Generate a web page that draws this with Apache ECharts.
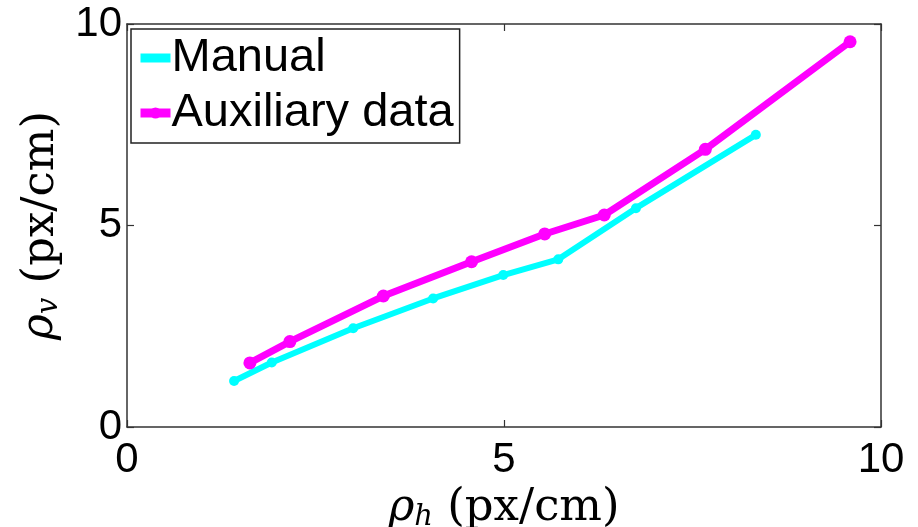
<!DOCTYPE html>
<html>
<head>
<meta charset="utf-8">
<script src="https://cdn.jsdelivr.net/npm/echarts@6/dist/echarts.min.js"></script>
<style>
  html, body { margin: 0; padding: 0; background: #fff; }
  #chart { width: 918px; height: 527px; }
</style>
</head>
<body>
<div id="chart"></div>
<script>
// values
var manualX = [1.42, 1.92, 3.0, 4.06, 4.99, 5.72, 6.75, 8.34];
var manualY = [1.14, 1.60, 2.45, 3.19, 3.77, 4.16, 5.43, 7.25];
var auxX = [1.63, 2.16, 3.40, 4.57, 5.54, 6.33, 7.67, 9.59];
var auxY = [1.59, 2.12, 3.25, 4.10, 4.79, 5.26, 6.89, 9.56];
var seriesNames = ["Manual", "Auxiliary data"];
var axisMin = 0, axisMax = 10, axisStep = 5;

function pairs(xs, ys) {
  return xs.map(function (x, i) { return [x, ys[i]]; });
}

var myChart = echarts.init(document.getElementById("chart"));

var lineColor = "#333";
var tickFont = "Liberation Sans";
var titleFont = "DejaVu Serif";

// rich text for the rho symbol with a subscript
var titleRich = {
  r: { fontFamily: titleFont, fontStyle: "italic", fontSize: 44, color: "#000" },
  s: { fontFamily: titleFont, fontStyle: "italic", fontSize: 29, color: "#000", padding: [18, 0, 0, 0] },
  t: { fontFamily: titleFont, fontSize: 45, color: "#000" }
};

function valueAxis(pos, showLabel, name) {
  var isX = pos === "bottom" || pos === "top";
  return {
    type: "value",
    position: pos,
    min: axisMin,
    max: axisMax,
    interval: axisStep,
    name: name || "",
    nameLocation: "middle",
    nameGap: isX ? 52 : 58,
    nameTextStyle: { rich: titleRich },
    axisLine: { show: true, onZero: false, lineStyle: { color: lineColor, width: 1.5 } },
    axisTick: { show: true, inside: true, length: 7, lineStyle: { color: lineColor, width: 1.2 } },
    axisLabel: {
      show: showLabel,
      fontFamily: tickFont,
      fontSize: 42,
      color: "#000",
      margin: isX ? 12 : 5
    },
    splitLine: { show: false }
  };
}

var option = {
  animation: false,
  backgroundColor: "#fff",
  grid: { left: 127, right: 37, top: 24, bottom: 100, outerBoundsMode: "none" },
  legend: {
    orient: "vertical",
    left: 131,
    top: 29,
    padding: [4, 6, 5, 5],
    itemGap: 5,
    itemWidth: 30,
    itemHeight: 14,
    borderColor: "#222",
    borderWidth: 1.5,
    backgroundColor: "#fff",
    lineStyle: { width: 9 },
    textStyle: { fontFamily: tickFont, fontSize: 47, color: "#000", lineHeight: 50, padding: [0, 0, 0, -4] },
    data: [
      { name: seriesNames[0], itemStyle: { opacity: 0 } },
      { name: seriesNames[1] }
    ]
  },
  xAxis: [
    valueAxis("bottom", true, "{r|ρ}{s|h}{t| (px/cm)}"),
    valueAxis("top", false)
  ],
  yAxis: [
    valueAxis("left", true, "{r|ρ}{s|v}{t| (px/cm)}"),
    valueAxis("right", false)
  ],
  series: [
    {
      name: seriesNames[0],
      type: "line",
      data: pairs(manualX, manualY),
      symbol: "circle",
      symbolSize: 10,
      color: "#00ffff",
      lineStyle: { width: 6, color: "#00ffff" },
      itemStyle: { color: "#00ffff" },
      z: 3
    },
    {
      name: seriesNames[1],
      type: "line",
      data: pairs(auxX, auxY),
      symbol: "circle",
      symbolSize: 13,
      color: "#ff00ff",
      lineStyle: { width: 7, color: "#ff00ff" },
      itemStyle: { color: "#ff00ff" },
      z: 4
    }
  ]
};

option && myChart.setOption(option);
</script>
</body>
</html>
